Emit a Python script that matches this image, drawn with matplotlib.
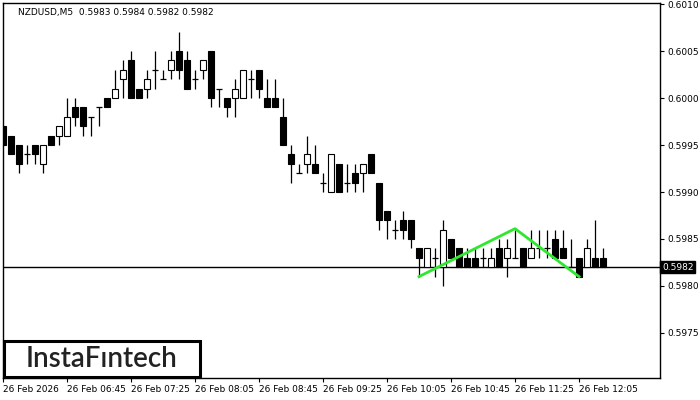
import matplotlib
matplotlib.use("Agg")
import matplotlib.pyplot as plt
from matplotlib.patches import Rectangle
from matplotlib.transforms import blended_transform_factory

# NZDUSD M5 candles, 06:05 .. 12:20
opens = [0.5997, 0.5996, 0.5995, 0.5994, 0.5995, 0.5993, 0.5996, 0.5996, 0.5996, 0.5999,
         0.5999, 0.5998, 0.5999, 0.6000, 0.6000, 0.6002, 0.6004, 0.6001, 0.6001, 0.6003,
         0.6002, 0.6003, 0.6005, 0.6004, 0.6002, 0.6003, 0.6005, 0.6001, 0.6000, 0.6000,
         0.6000, 0.6002, 0.6003, 0.6000, 0.6000, 0.5998, 0.5994, 0.5992, 0.5993, 0.5993,
         0.5991, 0.5990, 0.5993, 0.5991, 0.5992, 0.5992, 0.5994, 0.5991, 0.5988, 0.5986,
         0.5987, 0.5987, 0.5984, 0.5982, 0.5983, 0.5982, 0.5985, 0.5984, 0.5983, 0.5983,
         0.5983, 0.5982, 0.5984, 0.5983, 0.5983, 0.5984, 0.5983, 0.5984, 0.5984, 0.5985,
         0.5984, 0.5982, 0.5983, 0.5982, 0.5983, 0.5983]
highs = [0.5997, 0.5996, 0.5995, 0.5995, 0.5995, 0.5995, 0.5996, 0.5997, 0.6000, 0.6000,
         0.5999, 0.5998, 0.5999, 0.6000, 0.6003, 0.6004, 0.6005, 0.6001, 0.6003, 0.6005,
         0.6003, 0.6005, 0.6007, 0.6005, 0.6003, 0.6004, 0.6005, 0.6001, 0.6000, 0.6002,
         0.6003, 0.6003, 0.6003, 0.6002, 0.6002, 0.6000, 0.5995, 0.5993, 0.5996, 0.5995,
         0.5992, 0.5994, 0.5993, 0.5993, 0.5993, 0.5993, 0.5994, 0.5991, 0.5988, 0.5987,
         0.5988, 0.5987, 0.5984, 0.5984, 0.5984, 0.5987, 0.5985, 0.5984, 0.5984, 0.5984,
         0.5984, 0.5984, 0.5985, 0.5985, 0.5986, 0.5984, 0.5986, 0.5986, 0.5986, 0.5986,
         0.5986, 0.5985, 0.5983, 0.5985, 0.5987, 0.5984]
lows = [0.5995, 0.5994, 0.5992, 0.5993, 0.5993, 0.5992, 0.5995, 0.5995, 0.5996, 0.5997,
        0.5996, 0.5996, 0.5997, 0.5999, 0.6000, 0.6000, 0.6000, 0.6000, 0.6000, 0.6001,
        0.6002, 0.6002, 0.6002, 0.6001, 0.6001, 0.6002, 0.5999, 0.5999, 0.5998, 0.5998,
        0.6000, 0.6000, 0.6000, 0.5999, 0.5999, 0.5995, 0.5991, 0.5992, 0.5992, 0.5992,
        0.5990, 0.5990, 0.5990, 0.5990, 0.5990, 0.5990, 0.5992, 0.5986, 0.5985, 0.5985,
        0.5985, 0.5984, 0.5981, 0.5982, 0.5981, 0.5980, 0.5983, 0.5982, 0.5982, 0.5982,
        0.5982, 0.5982, 0.5982, 0.5981, 0.5983, 0.5982, 0.5983, 0.5983, 0.5983, 0.5983,
        0.5983, 0.5982, 0.5981, 0.5982, 0.5982, 0.5982]
closes = [0.5995, 0.5994, 0.5993, 0.5994, 0.5994, 0.5995, 0.5995, 0.5997, 0.5998, 0.5998,
          0.5997, 0.5998, 0.5999, 0.5999, 0.6001, 0.6003, 0.6000, 0.6000, 0.6002, 0.6003,
          0.6002, 0.6004, 0.6003, 0.6001, 0.6002, 0.6004, 0.6000, 0.6001, 0.5999, 0.6001,
          0.6003, 0.6002, 0.6001, 0.5999, 0.5999, 0.5995, 0.5993, 0.5992, 0.5994, 0.5992,
          0.5991, 0.5994, 0.5990, 0.5991, 0.5991, 0.5993, 0.5992, 0.5987, 0.5987, 0.5986,
          0.5986, 0.5985, 0.5983, 0.5984, 0.5983, 0.5986, 0.5983, 0.5982, 0.5982, 0.5982,
          0.5983, 0.5983, 0.5982, 0.5984, 0.5983, 0.5982, 0.5984, 0.5984, 0.5984, 0.5983,
          0.5983, 0.5982, 0.5981, 0.5984, 0.5982, 0.5982]

# pattern line (double top): candle index and price
pattern_idx = [52, 64, 72]
pattern_price = [0.5981, 0.59861, 0.5981]

last_price = 0.5982
tick_idx = [0, 8, 16, 24, 32, 40, 48, 56, 64, 72]
tick_labels = ["26 Feb 2026", "26 Feb 06:45", "26 Feb 07:25", "26 Feb 08:05", "26 Feb 08:45",
               "26 Feb 09:25", "26 Feb 10:05", "26 Feb 10:45", "26 Feb 11:25", "26 Feb 12:05"]
price_ticks = [0.5975, 0.5980, 0.5985, 0.5990, 0.5995, 0.6000, 0.6005, 0.6010]

plt.rcParams['font.family'] = 'DejaVu Sans'
fig = plt.figure(figsize=(7, 4), dpi=100)
ax = fig.add_axes([3/700, 22/400, 657/700, 375/400])

w = 0.68
for i in range(len(opens)):
    o, h, l, c = opens[i], highs[i], lows[i], closes[i]
    ax.vlines(i, l, h, color='black', lw=0.9, zorder=2)
    if o == c:
        ax.hlines(o, i - w/2, i + w/2, color='black', lw=0.9, zorder=3)
    else:
        face = 'white' if c > o else 'black'
        ax.bar(i, abs(c - o), w, bottom=min(o, c), color=face,
               edgecolor='black', linewidth=0.8, zorder=3)

ax.axhline(last_price, color='black', lw=1.0, zorder=1)
ax.plot(pattern_idx, pattern_price, color='#2EE82E', lw=2.0, zorder=4)

ax.set_xlim(0, 657/8)
ax.set_ylim(0.597021, 0.601011)

ax.yaxis.tick_right()
ax.set_yticks(price_ticks)
ax.set_yticklabels(["%.4f" % p for p in price_ticks])
ax.set_xticks(tick_idx)
ax.set_xticklabels(tick_labels, ha='left')
ax.tick_params(axis='both', direction='out', length=3, width=0.8, labelsize=6.5, pad=2)
for s in ax.spines.values():
    s.set_linewidth(1.0)

# current price label
tr = blended_transform_factory(ax.transAxes, ax.transData)
ax.text(1.003, last_price, "%.4f" % last_price, transform=tr, color='white', fontsize=6.5,
        va='center', ha='left', bbox=dict(facecolor='black', edgecolor='black', pad=1.2))

fig.text(18/700, 1 - 12/400, "NZDUSD,M5  0.5983 0.5984 0.5982 0.5982", fontsize=6.5,
         va='center', ha='left')

# logo box
fig.add_artist(Rectangle((4/700, 23/400), 196/700, 36/400, transform=fig.transFigure,
                         facecolor='white', edgecolor='black', linewidth=2.2, zorder=5))
fig.text(102/700, 1 - 359/400, "InstaFıntech", fontsize=20, family='Lato', weight='semibold',
         color='#222222', ha='center', va='center', zorder=6)

fig.savefig("out.png", dpi=100)
